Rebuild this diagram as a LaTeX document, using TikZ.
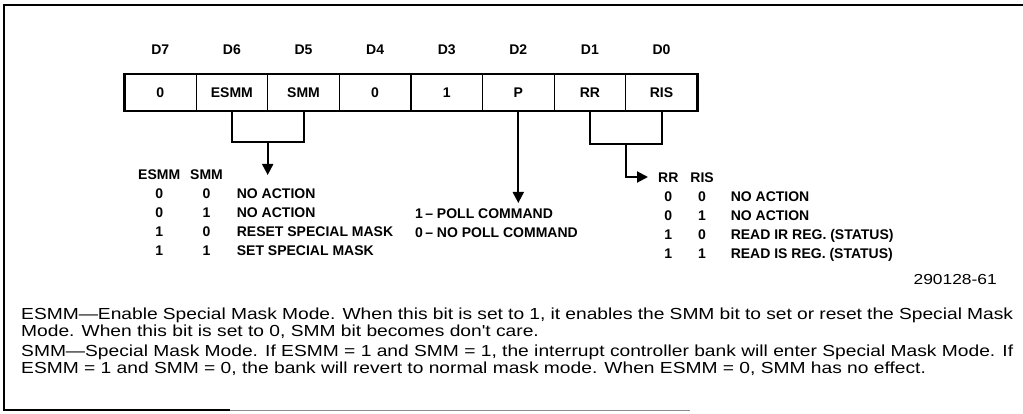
\documentclass[tikz,border=0pt]{standalone}
\usepackage{fontspec}
\setmainfont{Liberation Sans}
\newfontfamily\capfont{Liberation Sans}[FakeStretch=1.2]
\usepackage{tikz}
\usetikzlibrary{arrows.meta,positioning,calc}
\setlength{\parindent}{0pt}

\begin{document}
\begin{tikzpicture}[x=1pt, y=-1pt,
    bit/.style={rectangle, draw, line width=1.2pt, minimum width=71.6pt, minimum height=37pt,
                inner sep=0pt, outer sep=0pt, font=\fontsize{14}{17}\selectfont\bfseries,
                text height=10pt, text depth=0pt},
    dl/.style={inner sep=0pt, font=\fontsize{14}{17}\selectfont\bfseries, text height=10pt, text depth=0pt},
    tbl/.style={inner sep=0pt, anchor=base west, font=\fontsize{14}{19}\selectfont\bfseries},
    conn/.style={line width=2pt},
    arr/.style={line width=2pt, -{Triangle[length=11pt,width=11pt]}},
    para/.style={inner sep=0pt, anchor=north west, text width=992pt, align=justify,
                 font=\capfont\fontsize{16}{17}\selectfont}]
\useasboundingbox (0,0) rectangle (1023,414);

% frame
\draw[line width=1.3pt] (1023,5) -- (4,5) -- (4,410) -- (230,410);
\draw[line width=1pt, black!45] (230,410) -- (690,410);

% register
\node[bit] (b7) at (160.3,92.5) {0};
\node[bit, right=0pt of b7] (b6) {ESMM};
\node[bit, right=0pt of b6] (b5) {SMM};
\node[bit, right=0pt of b5] (b4) {0};
\node[bit, right=0pt of b4] (b3) {1};
\node[bit, right=0pt of b3] (b2) {P};
\node[bit, right=0pt of b2] (b1) {RR};
\node[bit, right=0pt of b1] (b0) {RIS};
\draw[line width=2.6pt] (b7.north west) rectangle (b0.south east);

\node[dl, above=19pt of b7] (d7) {D7};
\node[dl, above=19pt of b6] (d6) {D6};
\node[dl, above=19pt of b5] (d5) {D5};
\node[dl, above=19pt of b4] (d4) {D4};
\node[dl, above=19pt of b3] (d3) {D3};
\node[dl, above=19pt of b2] (d2) {D2};
\node[dl, above=19pt of b1] (d1) {D1};
\node[dl, above=19pt of b0] (d0) {D0};

% ESMM / SMM
\draw[conn] (b6.south) -- ++(0,31) -| (b5.south);
\coordinate (esmmtip) at (267.7,175);
\draw[arr] ($(b6.south)!.5!(b5.south)+(0,31)$) -- (esmmtip);
\node[tbl] (esmmtab) at (138,180) {\begin{tabular}[t]{@{}c@{\hspace{10pt}}c@{\hspace{14pt}}l@{}}
  ESMM & SMM & \\
  0 & 0 & NO ACTION\\
  0 & 1 & NO ACTION\\
  1 & 0 & RESET SPECIAL MASK\\
  1 & 1 & SET SPECIAL MASK
\end{tabular}};

% poll
\coordinate (polltip) at (b2.south |- 0,203);
\draw[arr] (b2.south) -- (polltip);
\node[tbl] (polltab) at (415,218.5) {\begin{tabular}[t]{@{}l@{}}
  1\,\textendash\ POLL COMMAND\\
  0\,\textendash\ NO POLL COMMAND
\end{tabular}};

% RR / RIS
\draw[conn] (b1.south) -- ++(0,33) -| (b0.south);
\coordinate (rrtip) at (648,177);
\draw[arr] ($(b1.south)!.5!(b0.south)+(0,33)$) |- (rrtip);
\node[tbl] (rrtab) at (658,183) {\begin{tabular}[t]{@{}c@{\hspace{12pt}}c@{\hspace{17pt}}l@{}}
  RR & RIS & \\
  0 & 0 & NO ACTION\\
  0 & 1 & NO ACTION\\
  1 & 0 & READ IR REG. (STATUS)\\
  1 & 1 & READ IS REG. (STATUS)
\end{tabular}};

\node[inner sep=0pt, anchor=base east, font=\capfont\fontsize{14.5}{16}\selectfont] (figid) at (997,284) {290128-61};

% description
\node[para] (esmmtxt) at (21,307.8) {ESMM—Enable Special Mask Mode. When this bit is set to 1, it enables the SMM bit to set or reset the Special Mask\linebreak Mode. When this bit is set to 0, SMM bit becomes don't care.};
\node[para] (smmtxt) at (21,344.3) {SMM—Special Mask Mode. If ESMM = 1 and SMM = 1, the interrupt controller bank will enter Special Mask Mode. If\linebreak ESMM = 1 and SMM = 0, the bank will revert to normal mask mode. When ESMM = 0, SMM has no effect.};
\end{tikzpicture}
\end{document}
